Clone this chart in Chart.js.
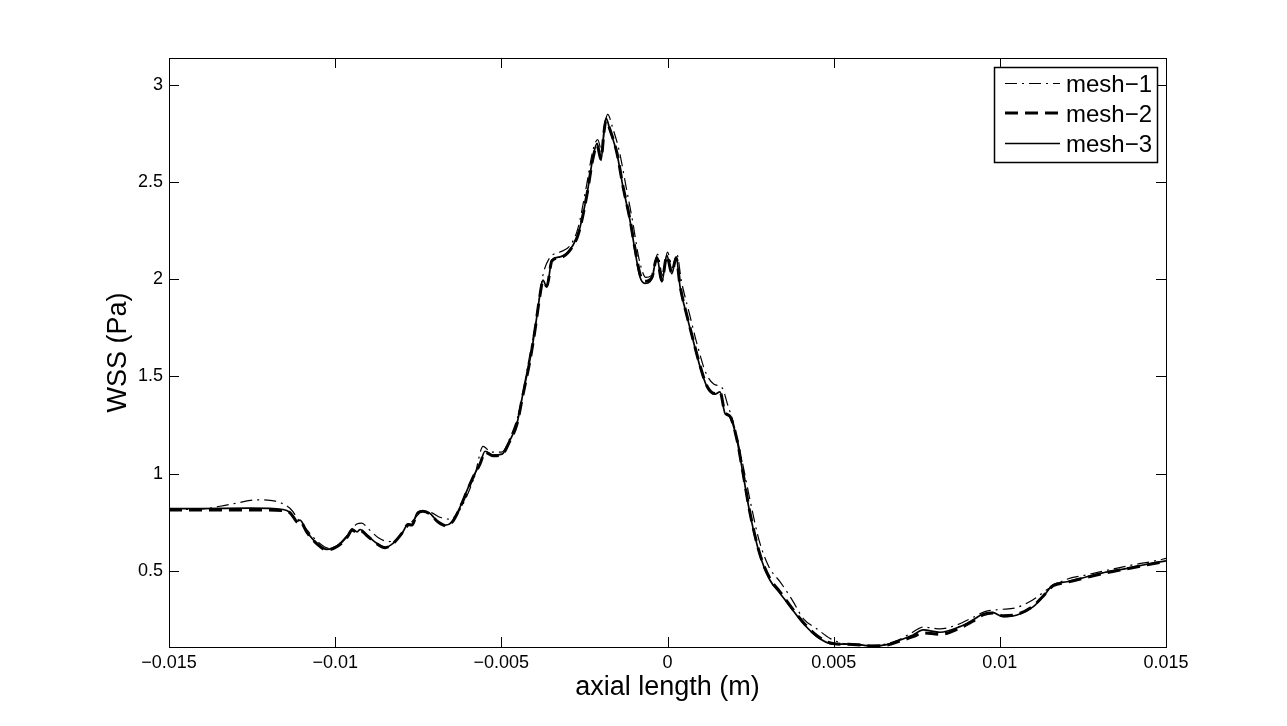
<!DOCTYPE html>
<html>
<head>
<meta charset="utf-8">
<script src="https://cdn.jsdelivr.net/npm/chart.js@4.4.1/dist/chart.umd.min.js"></script>
<style>
  body{margin:0;background:#fff}
  canvas{display:block}
</style>
</head>
<body>
<canvas id="myChart" width="1287" height="726"></canvas>
<script>
// axial position (m) shared by mesh-2 and mesh-3
const xFine = [-0.01500,-0.01407,-0.01256,-0.01157,-0.01136,-0.01124,-0.01115,-0.01106,-0.01085,-0.01055,
  -0.01025,-0.00994,-0.00964,-0.00949,-0.00934,-0.00925,-0.00904,-0.00874,-0.00850,-0.00826,
  -0.00796,-0.00781,-0.00769,-0.00754,-0.00736,-0.00715,-0.00691,-0.00669,-0.00648,-0.00624,
  -0.00603,-0.00585,-0.00564,-0.00549,-0.00525,-0.00498,-0.00474,-0.00453,-0.00435,-0.00414,
  -0.00399,-0.00384,-0.00375,-0.00363,-0.00348,-0.00323,-0.00299,-0.00272,-0.00263,-0.00242,
  -0.00224,-0.00212,-0.00200,-0.00191,-0.00185,-0.00173,-0.00152,-0.00134,-0.00113,-0.00098,
  -0.00083,-0.00068,-0.00047,-0.00032,-0.00017,-0.00002,0.00013,0.00026,0.00038,0.00059,
  0.00077,0.00098,0.00119,0.00143,0.00158,0.00173,0.00188,0.00209,0.00227,0.00248,
  0.00278,0.00308,0.00339,0.00369,0.00408,0.00450,0.00498,0.00558,0.00618,0.00660,
  0.00700,0.00739,0.00769,0.00820,0.00880,0.00919,0.00949,0.00979,0.01010,0.01052,
  0.01100,0.01130,0.01160,0.01202,0.01262,0.01323,0.01383,0.01443,0.01500]

const mesh3 = [0.820,0.820,0.822,0.815,0.800,0.775,0.755,0.760,0.700,0.640,
  0.610,0.628,0.675,0.715,0.700,0.712,0.683,0.640,0.620,0.641,
  0.700,0.740,0.735,0.795,0.808,0.795,0.752,0.735,0.752,0.829,
  0.915,0.983,1.052,1.115,1.095,1.100,1.172,1.258,1.412,1.584,
  1.739,1.919,1.996,1.961,2.099,2.116,2.141,2.219,2.270,2.442,
  2.630,2.700,2.613,2.768,2.830,2.768,2.647,2.476,2.304,2.150,
  2.013,1.979,2.004,2.116,1.987,2.124,2.029,2.116,1.960,1.807,
  1.687,1.550,1.447,1.409,1.421,1.310,1.292,1.172,1.001,0.795,
  0.580,0.452,0.383,0.314,0.229,0.160,0.122,0.122,0.112,0.119,
  0.143,0.169,0.195,0.183,0.212,0.246,0.277,0.284,0.263,0.272,
  0.314,0.366,0.426,0.443,0.469,0.494,0.512,0.533,0.551]

const mesh2 = [0.812,0.812,0.813,0.810,0.798,0.772,0.752,0.755,0.697,0.638,
  0.607,0.625,0.672,0.708,0.698,0.708,0.680,0.638,0.618,0.640,
  0.700,0.738,0.735,0.792,0.806,0.792,0.752,0.733,0.750,0.826,
  0.910,0.980,1.050,1.110,1.092,1.098,1.170,1.255,1.405,1.580,
  1.735,1.915,1.990,1.965,2.095,2.112,2.138,2.215,2.265,2.440,
  2.625,2.690,2.620,2.760,2.820,2.770,2.650,2.480,2.310,2.160,
  2.030,1.990,2.010,2.110,1.995,2.120,2.035,2.110,1.965,1.810,
  1.690,1.555,1.450,1.412,1.420,1.315,1.295,1.175,1.005,0.800,
  0.585,0.460,0.390,0.320,0.235,0.165,0.125,0.120,0.112,0.117,
  0.138,0.160,0.180,0.172,0.205,0.240,0.272,0.282,0.268,0.275,
  0.318,0.368,0.422,0.440,0.466,0.490,0.510,0.530,0.548]

const xMesh1 = [-0.01500,-0.01400,-0.01320,-0.01230,-0.01180,-0.01150,-0.01130,-0.01110,-0.01080,-0.01050,
  -0.01020,-0.00990,-0.00960,-0.00935,-0.00920,-0.00900,-0.00870,-0.00840,-0.00815,-0.00790,
  -0.00765,-0.00740,-0.00715,-0.00685,-0.00655,-0.00630,-0.00605,-0.00580,-0.00555,-0.00530,
  -0.00500,-0.00470,-0.00445,-0.00420,-0.00395,-0.00375,-0.00355,-0.00325,-0.00295,-0.00270,
  -0.00245,-0.00225,-0.00210,-0.00198,-0.00188,-0.00180,-0.00165,-0.00145,-0.00125,-0.00105,
  -0.00085,-0.00065,-0.00045,-0.00030,-0.00015,0.00000,0.00015,0.00028,0.00042,0.00065,
  0.00090,0.00115,0.00140,0.00165,0.00180,0.00200,0.00225,0.00250,0.00275,0.00305,
  0.00340,0.00375,0.00410,0.00450,0.00490,0.00530,0.00590,0.00640,0.00690,0.00730,
  0.00770,0.00820,0.00870,0.00920,0.00955,0.01000,0.01050,0.01100,0.01140,0.01200,
  0.01260,0.01330,0.01400,0.01460,0.01500]

const mesh1 = [0.815,0.818,0.840,0.865,0.858,0.838,0.810,0.760,0.700,0.645,
  0.615,0.635,0.690,0.740,0.745,0.715,0.670,0.650,0.660,0.710,
  0.760,0.800,0.800,0.775,0.765,0.800,0.880,0.990,1.140,1.110,
  1.110,1.200,1.330,1.560,1.790,2.020,2.110,2.140,2.170,2.260,
  2.470,2.660,2.720,2.660,2.800,2.850,2.780,2.660,2.480,2.300,
  2.100,2.010,2.030,2.130,2.020,2.140,2.060,2.130,1.990,1.830,
  1.660,1.520,1.460,1.440,1.360,1.250,1.060,0.850,0.660,0.520,
  0.440,0.350,0.250,0.200,0.150,0.125,0.115,0.118,0.140,0.175,
  0.210,0.200,0.220,0.260,0.289,0.300,0.310,0.350,0.400,0.455,
  0.478,0.505,0.530,0.548,0.563]

const seriesNames = ['mesh\u22121','mesh\u22122','mesh\u22123']
const xTickValues = [-0.015,-0.01,-0.005,0,0.005,0.01,0.015]
const xTickLabels = ['\u22120.015','\u22120.01','\u22120.005','0','0.005','0.01','0.015']
const yTickValues = [0.5,1,1.5,2,2.5,3]
const yTickLabels = ['0.5','1','1.5','2','2.5','3']

const toPoints = (xs, ys) => xs.map((x, i) => ({x: x, y: ys[i]}))
const font = 'Liberation Sans, Arial, Helvetica, sans-serif'

// box, inward ticks on all four sides and the legend, matlab style
const frame = {
  id: 'frame',
  afterDraw(chart) {
    const {ctx, chartArea: a, scales} = chart
    ctx.save()
    ctx.strokeStyle = '#000'
    ctx.lineWidth = 1
    ctx.setLineDash([])
    ctx.strokeRect(a.left + 0.5, a.top + 0.5, a.right - a.left, a.bottom - a.top)
    ctx.beginPath()
    xTickValues.forEach(v => {
      const px = Math.round(scales.x.getPixelForValue(v)) + 0.5
      ctx.moveTo(px, a.bottom); ctx.lineTo(px, a.bottom - 10)
      ctx.moveTo(px, a.top); ctx.lineTo(px, a.top + 10)
    })
    yTickValues.forEach(v => {
      const py = Math.round(scales.y.getPixelForValue(v)) + 0.5
      ctx.moveTo(a.left, py); ctx.lineTo(a.left + 10, py)
      ctx.moveTo(a.right, py); ctx.lineTo(a.right - 10, py)
    })
    ctx.stroke()

    // legend
    const lx = 994, ly = 67, lw = 163, lh = 95
    ctx.fillStyle = '#fff'
    ctx.fillRect(lx, ly, lw, lh)
    ctx.lineWidth = 1.5
    ctx.strokeRect(lx + 0.5, ly + 0.5, lw, lh)
    const rows = [83.5, 113, 143.5]
    chart.data.datasets.forEach((ds, i) => {
      ctx.beginPath()
      ctx.lineWidth = ds.borderWidth
      ctx.setLineDash(ds.borderDash || [])
      ctx.moveTo(1005, rows[i]); ctx.lineTo(1060, rows[i])
      ctx.stroke()
      ctx.setLineDash([])
      ctx.fillStyle = '#000'
      ctx.font = '24px ' + font
      ctx.textBaseline = 'middle'
      ctx.fillText(ds.label, 1066, rows[i] + 2)
    })
    ctx.restore()
  }
}

new Chart(document.getElementById('myChart'), {
  type: 'line',
  data: {
    datasets: [
      {label: seriesNames[0], data: toPoints(xMesh1, mesh1), borderColor: '#000', borderWidth: 1.2, borderDash: [12,5,2,5], order: 2},
      {label: seriesNames[1], data: toPoints(xFine, mesh2), borderColor: '#000', borderWidth: 3, borderDash: [13,7], order: 1},
      {label: seriesNames[2], data: toPoints(xFine, mesh3), borderColor: '#000', borderWidth: 1.7, order: 0}
    ]
  },
  options: {
    responsive: false,
    animation: false,
    events: [],
    elements: {point: {radius: 0}, line: {cubicInterpolationMode: 'monotone', fill: false}},
    layout: {padding: {top: 58, right: 121, left: 0, bottom: 0}},
    plugins: {legend: {display: false}, tooltip: {enabled: false}},
    scales: {
      x: {
        type: 'linear',
        min: -0.015,
        max: 0.015,
        afterBuildTicks: s => { s.ticks = xTickValues.map(v => ({value: v})) },
        afterFit: s => { s.height = 79 },
        grid: {display: false, drawTicks: false},
        border: {display: false},
        ticks: {
          padding: 5,
          color: '#000',
          font: {family: font, size: 18},
          maxRotation: 0,
          callback: (v) => xTickLabels[xTickValues.indexOf(v)]
        },
        title: {display: true, text: 'axial length (m)', color: '#000', font: {family: font, size: 27}, padding: {top: 0, bottom: 22}}
      },
      y: {
        type: 'linear',
        min: 0.107,
        max: 3.14,
        afterBuildTicks: s => { s.ticks = yTickValues.map(v => ({value: v})) },
        afterFit: s => { s.width = 169 },
        grid: {display: false, drawTicks: false},
        border: {display: false},
        ticks: {
          padding: 6,
          color: '#000',
          font: {family: font, size: 18},
          callback: (v) => yTickLabels[yTickValues.indexOf(v)]
        },
        title: {display: true, text: 'WSS (Pa)', color: '#000', font: {family: font, size: 27}, padding: {top: 102, bottom: 0}}
      }
    }
  },
  plugins: [frame]
})
</script>
</body>
</html>
